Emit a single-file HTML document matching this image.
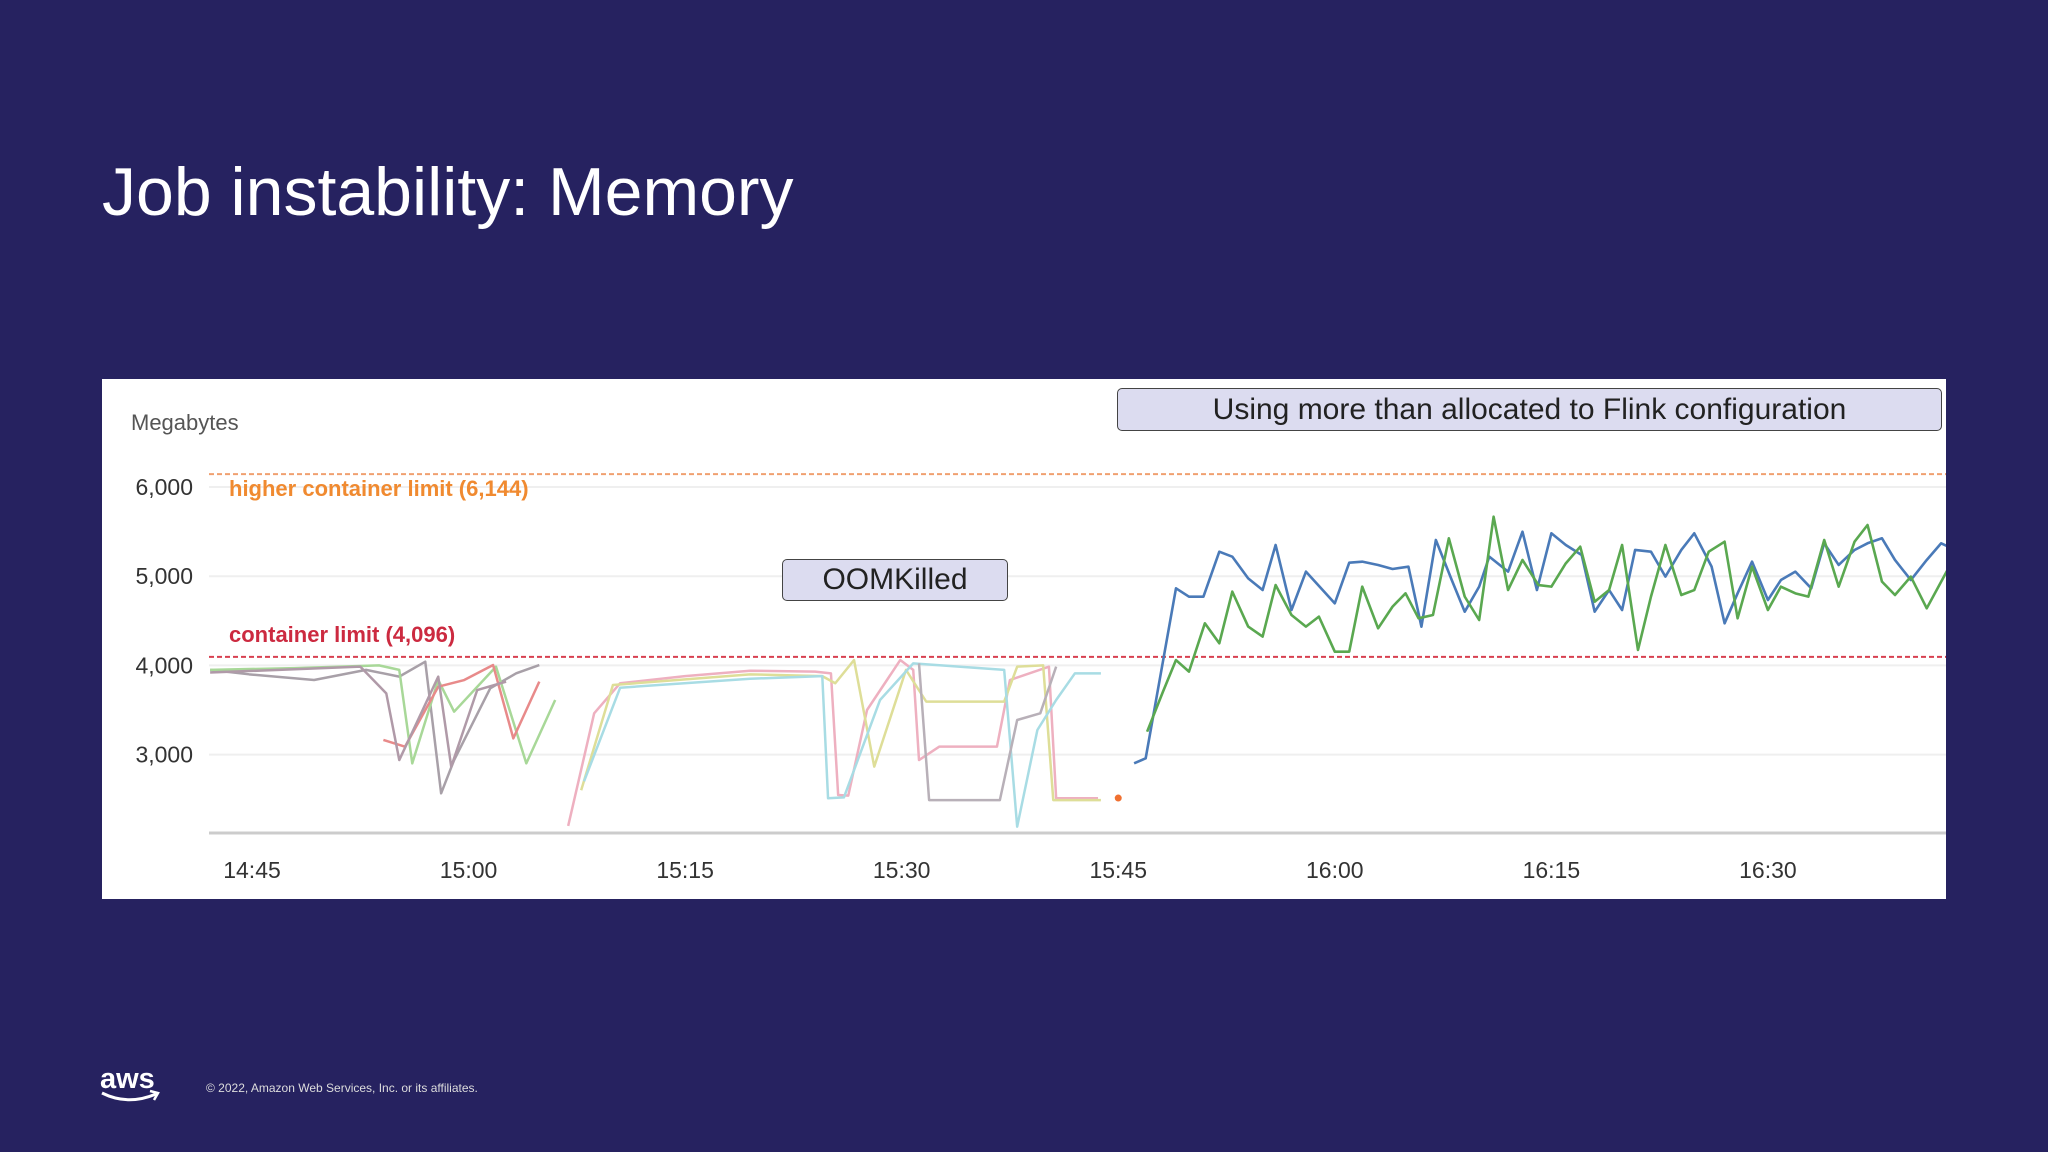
<!DOCTYPE html>
<html><head><meta charset="utf-8"><style>
body{margin:0;width:2048px;height:1152px;background:#262260;overflow:hidden;font-family:"Liberation Sans",sans-serif;position:relative}
.title{position:absolute;left:102px;top:153px;font-size:68px;color:#fff}
.panel{position:absolute;left:102px;top:379px;width:1844px;height:520px;background:#fff}
.box{position:absolute;background:#dcdcf0;border:1.5px solid #444;border-radius:5px;color:#222;font-size:30px;text-align:center;box-sizing:border-box}
.foot{position:absolute;left:206px;top:1081px;font-size:12px;color:#ddd}
</style></head><body>
<div class="title">Job instability: Memory</div>
<div class="panel"></div>
<svg id="chart" width="2048" height="1152" style="position:absolute;left:0;top:0"><defs><clipPath id="plotclip"><rect x="102" y="379" width="1844" height="520"/></clipPath></defs></svg>
<div class="box" style="left:782px;top:559px;width:226px;height:42px;line-height:40px">OOMKilled</div>
<div class="box" style="left:1117px;top:388px;width:825px;height:43px;line-height:41px">Using more than allocated to Flink configuration</div>
<svg width="70" height="45" style="position:absolute;left:98px;top:1060px">
<text x="2" y="28" font-family="Liberation Sans" font-weight="bold" font-size="29" fill="#fff">aws</text>
<path d="M4 33 Q30 46 58 34" stroke="#fff" stroke-width="3" fill="none"/><path d="M52 31 L60 33 L56 40" stroke="#fff" stroke-width="2.5" fill="none"/></svg>
<div class="foot">© 2022, Amazon Web Services, Inc. or its affiliates.</div>
<script>
const yTicks=[3000,4000,5000,6000];
const yTickLabels=["3,000","4,000","5,000","6,000"];
const xTicks=[0,15,30,45,60,75,90,105];
const xTickLabels=["14:45","15:00","15:15","15:30","15:45","16:00","16:15","16:30"];
const limits=[6144,4096];
const limitLabels=["higher container limit (6,144)","container limit (4,096)"];
const blueT=[61.1,61.9,64.0,64.9,65.9,67.0,67.9,69.0,70.0,70.9,72.0,73.0,75.0,76.0,76.9,78.0,79.0,80.1,81.0,82.0,83.1,84.0,85.0,85.7,87.0,88.0,89.0,90.0,91.0,92.1,93.0,94.0,94.9,95.8,96.9,97.9,99.0,99.9,101.1,102.0,102.9,103.9,105.0,105.9,106.9,108.0,108.9,109.9,111.0,111.9,112.9,113.8,114.9,116.0,117.0,117.5];
const blueV=[2902,2958,4864,4770,4770,5275,5219,4976,4845,5350,4621,5051,4696,5152,5163,5126,5081,5107,4434,5406,4957,4602,4883,5219,5051,5499,4845,5481,5350,5238,4602,4845,4621,5294,5275,4995,5294,5481,5107,4472,4808,5163,4733,4957,5051,4864,5369,5126,5294,5369,5425,5182,4957,5182,5369,5331];
const greenT=[62.0,63.1,64.0,64.9,66.0,67.0,67.9,69.0,70.0,70.9,72.0,73.0,73.9,75.0,76.0,76.9,78.0,79.0,79.9,80.8,81.8,82.9,84.0,85.0,86.0,87.0,88.0,89.1,90.0,91.0,92.0,93.0,94.0,94.9,96.0,96.9,97.9,99.0,99.9,100.9,102.0,102.9,103.9,105.0,105.9,106.9,107.8,108.9,109.9,111.0,111.9,112.9,113.8,114.9,116.0,117.5];
const greenV=[3257,3706,4060,3930,4472,4248,4827,4435,4323,4901,4565,4435,4547,4154,4154,4883,4416,4659,4808,4528,4565,5425,4771,4509,5667,4845,5182,4901,4883,5144,5331,4714,4845,5350,4173,4771,5350,4789,4845,5275,5387,4528,5107,4621,4883,4808,4771,5406,4883,5387,5574,4939,4789,4995,4640,5088];
const grayAT=[-2.9,-0.2,4.3,7.9,10.2,12.0,13.1,14.0,16.5,18.3,19.9];
const grayAV=[3950,3900,3836,3950,3874,4042,2566,2939,3743,3911,4004];
const greenBT=[-2.9,3.0,8.8,10.2,11.1,12.9,14.0,16.9,19.0,21.0];
const greenBV=[3950,3970,4000,3950,2902,3836,3481,3986,2902,3612];
const salmonCT=[9.1,10.6,12.9,14.7,16.7,18.1,19.9];
const salmonCV=[3164,3089,3761,3836,4004,3182,3818];
const mauveDT=[-2.9,7.5,9.3,10.2,12.9,13.8,15.6,17.6];
const mauveDV=[3920,3986,3687,2939,3874,2865,3724,3818];
const pinkET=[21.9,23.7,25.5,30.0,34.5,39.0,40.1,40.6,41.3,42.6,44.9,45.8,46.2,47.6,51.6,52.5,55.2,55.7,58.6];
const pinkEV=[2200,3463,3800,3880,3940,3930,3911,2547,2540,3500,4060,3950,2939,3089,3089,3836,3986,2510,2510];
const yellowFT=[22.8,25.0,34.5,39.5,40.4,41.7,43.1,45.3,46.7,52.1,53.0,54.8,55.5,58.8];
const yellowFV=[2600,3780,3900,3880,3800,4060,2865,3950,3594,3594,3986,4000,2490,2490];
const cyanGT=[23.0,25.5,34.5,39.5,39.9,41.0,43.5,45.8,52.1,53.0,54.4,55.7,57.0,58.8];
const cyanGV=[2700,3750,3850,3880,2510,2520,3612,4023,3950,2192,3276,3612,3911,3911];
const grayHT=[46.2,46.9,51.8,53.0,54.6,55.7];
const grayHV=[4023,2490,2490,3388,3463,3986];
const dotT=[60.0];const dotV=[2513];

const NS="http://www.w3.org/2000/svg";
const svg=document.getElementById('chart');
const X=t=>252+t*14.4373;
const Y=v=>487-(v-6000)*0.0892;
function mk(tag,attrs,parent){const e=document.createElementNS(NS,tag);for(const k in attrs)e.setAttribute(k,attrs[k]);(parent||svg).appendChild(e);return e;}
yTicks.forEach((v,i)=>{
 const g=mk('line',{x1:209,x2:1946,y1:Y(v),y2:Y(v),stroke:'#efefef','stroke-width':2});
 
 
 const t=mk('text',{x:193,y:Y(v)+8,'text-anchor':'end','font-size':23,fill:'#333','font-family':'Liberation Sans'});
 t.textContent=yTickLabels[i];
 
 
});
xTicks.forEach((tm,i)=>{
 const t=mk('text',{x:X(tm),y:878,'text-anchor':'middle','font-size':23,fill:'#333','font-family':'Liberation Sans'});
 t.textContent=xTickLabels[i];
 
 
});
const yt=mk('text',{x:131,y:430,'font-size':22,fill:'#555','font-family':'Liberation Sans'});
yt.textContent='Megabytes';


const ax=mk('line',{x1:209,x2:1946,y1:833,y2:833,stroke:'#ccc','stroke-width':3});


const limCol=['#f0a070','#d84050'];const labCol=['#f08a30','#cc2a40'];const labOff=[22,-15];
limits.forEach((v,i)=>{
 const l=mk('line',{x1:209,x2:1946,y1:Y(v),y2:Y(v),stroke:limCol[i],'stroke-width':2,'stroke-dasharray':'5 3'});
 
 
 const t=mk('text',{x:229,y:Y(v)+labOff[i],'font-size':22,'font-weight':'bold',fill:labCol[i],'font-family':'Liberation Sans'});
 t.textContent=limitLabels[i];
 
 
});
function series(T,V,col,w,name){
 const p=mk('polyline',{points:T.map((t,i)=>X(t)+','+Y(V[i])).join(' '),fill:'none',stroke:col,'stroke-width':w,'stroke-linejoin':'round','clip-path':'url(#plotclip)'});
 
 
}
series(grayAT,grayAV,'#a8a0a8',2.5,'series-gray-a');
series(greenBT,greenBV,'#a8d898',2.5,'series-green-b');
series(salmonCT,salmonCV,'#e88a8a',2.5,'series-salmon-c');
series(mauveDT,mauveDV,'#b09aa8',2.5,'series-mauve-d');
series(pinkET,pinkEV,'#eeb0c0',2.5,'series-pink-e');
series(yellowFT,yellowFV,'#dede98',2.5,'series-yellow-f');
series(cyanGT,cyanGV,'#a8dce4',2.5,'series-cyan-g');
series(grayHT,grayHV,'#b8b0b8',2.5,'series-gray-h');
series(blueT,blueV,'#4a7ab8',2.6,'series-blue');
series(greenT,greenV,'#5aa850',2.6,'series-green');
dotT.forEach((t,i)=>{
 const c=mk('circle',{cx:X(t),cy:Y(dotV[i]),r:3.5,fill:'#f07030'});
 
 
});
</script>
</body></html>
